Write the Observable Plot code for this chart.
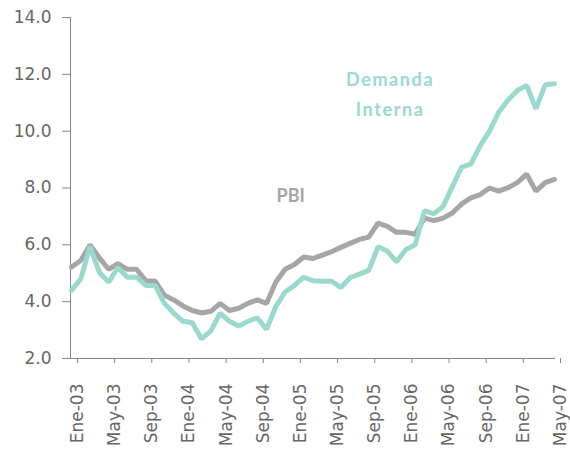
<!DOCTYPE html>
<html>
<head>
<meta charset="utf-8">
<script src="https://cdn.jsdelivr.net/npm/d3@7"></script>
<script src="https://cdn.jsdelivr.net/npm/@observablehq/plot@0.6"></script>
<style>
  html, body { margin: 0; padding: 0; background: #fff; }
  #chart { width: 570px; height: 452px; }
</style>
</head>
<body>
<div id="chart"></div>
<script>
// Monthly index 0 = Ene-03 ... 52 = May-07
const tickLabels = ["Ene-03","May-03","Sep-03","Ene-04","May-04","Sep-04","Ene-05","May-05","Sep-05","Ene-06","May-06","Sep-06","Ene-07","May-07"];

const pbi = [5.22,5.45,6.0,5.54,5.14,5.34,5.14,5.14,4.74,4.72,4.23,4.06,3.85,3.69,3.6,3.66,3.94,3.69,3.77,3.94,4.06,3.94,4.69,5.14,5.31,5.57,5.52,5.64,5.76,5.91,6.05,6.19,6.27,6.76,6.65,6.44,6.44,6.37,6.94,6.85,6.94,7.12,7.44,7.65,7.77,8.0,7.89,8.01,8.19,8.49,7.89,8.19,8.3];

const demanda = [4.40,4.80,5.94,5.03,4.69,5.20,4.86,4.86,4.57,4.57,3.94,3.60,3.31,3.26,2.69,2.97,3.60,3.31,3.14,3.31,3.43,3.03,3.83,4.34,4.57,4.86,4.74,4.72,4.72,4.50,4.85,4.97,5.10,5.93,5.78,5.40,5.84,6.0,7.2,7.09,7.35,8.05,8.73,8.85,9.49,10.0,10.67,11.1,11.43,11.61,10.79,11.63,11.67];

const seriesNames = ["PBI", "Demanda\nInterna"];

const rows = [];
pbi.forEach((v, i) => rows.push({m: i, v, s: "PBI"}));
demanda.forEach((v, i) => rows.push({m: i, v, s: "Demanda"}));

const gray = "#a6a6a6";
const teal = "#9bd9cf";
const font = "Lato, 'DejaVu Sans', sans-serif";
const axisFont = "'DejaVu Sans', sans-serif";

const chart = Plot.plot({
  width: 570,
  height: 452,
  marginLeft: 70,
  marginRight: 16,
  marginTop: 17,
  marginBottom: 94,
  style: {fontFamily: font, background: "#fff"},
  x: {domain: [0, 52], insetLeft: 1},
  y: {domain: [2, 14]},
  marks: [
    Plot.axisY({
      ticks: d3.range(2, 15, 2),
      tickFormat: d3.format(".1f"),
      tickSize: 8,
      tickPadding: 11,
      fontSize: 17,
      fontFamily: axisFont,
      color: "#666",
      stroke: "#888",
      label: null
    }),
    Plot.axisX({
      ticks: d3.range(0, 53, 4),
      tickFormat: d => tickLabels[d / 4],
      tickSize: 5,
      tickPadding: 20,
      tickRotate: -90,
      fontSize: 17,
      fontFamily: axisFont,
      color: "#666",
      stroke: "#888",
      label: null,
      dx: 6
    }),
    Plot.frame({anchor: "left", stroke: "#888"}),
    Plot.frame({anchor: "bottom", stroke: "#888"}),
    Plot.line(rows.filter(d => d.s === "PBI"), {x: "m", y: "v", stroke: gray, strokeWidth: 5, strokeLinejoin: "miter"}),
    Plot.line(rows.filter(d => d.s === "Demanda"), {x: "m", y: "v", stroke: teal, strokeWidth: 5, strokeLinejoin: "miter"}),
    Plot.text([seriesNames[0]], {x: 23.6, y: 7.7, text: d => d, fill: gray, fontSize: 18, fontWeight: "bold", fontFamily: font}),
    Plot.text([seriesNames[1]], {x: 34.3, y: 11.4, text: d => d, fill: teal, fontSize: 18, fontWeight: "bold", fontFamily: font, lineHeight: 1.7, className: "lbl-teal"})
  ]
});
chart.querySelectorAll(".lbl-teal text").forEach(t => t.style.letterSpacing = "1.6px");
document.getElementById("chart").appendChild(chart);
</script>
</body>
</html>
